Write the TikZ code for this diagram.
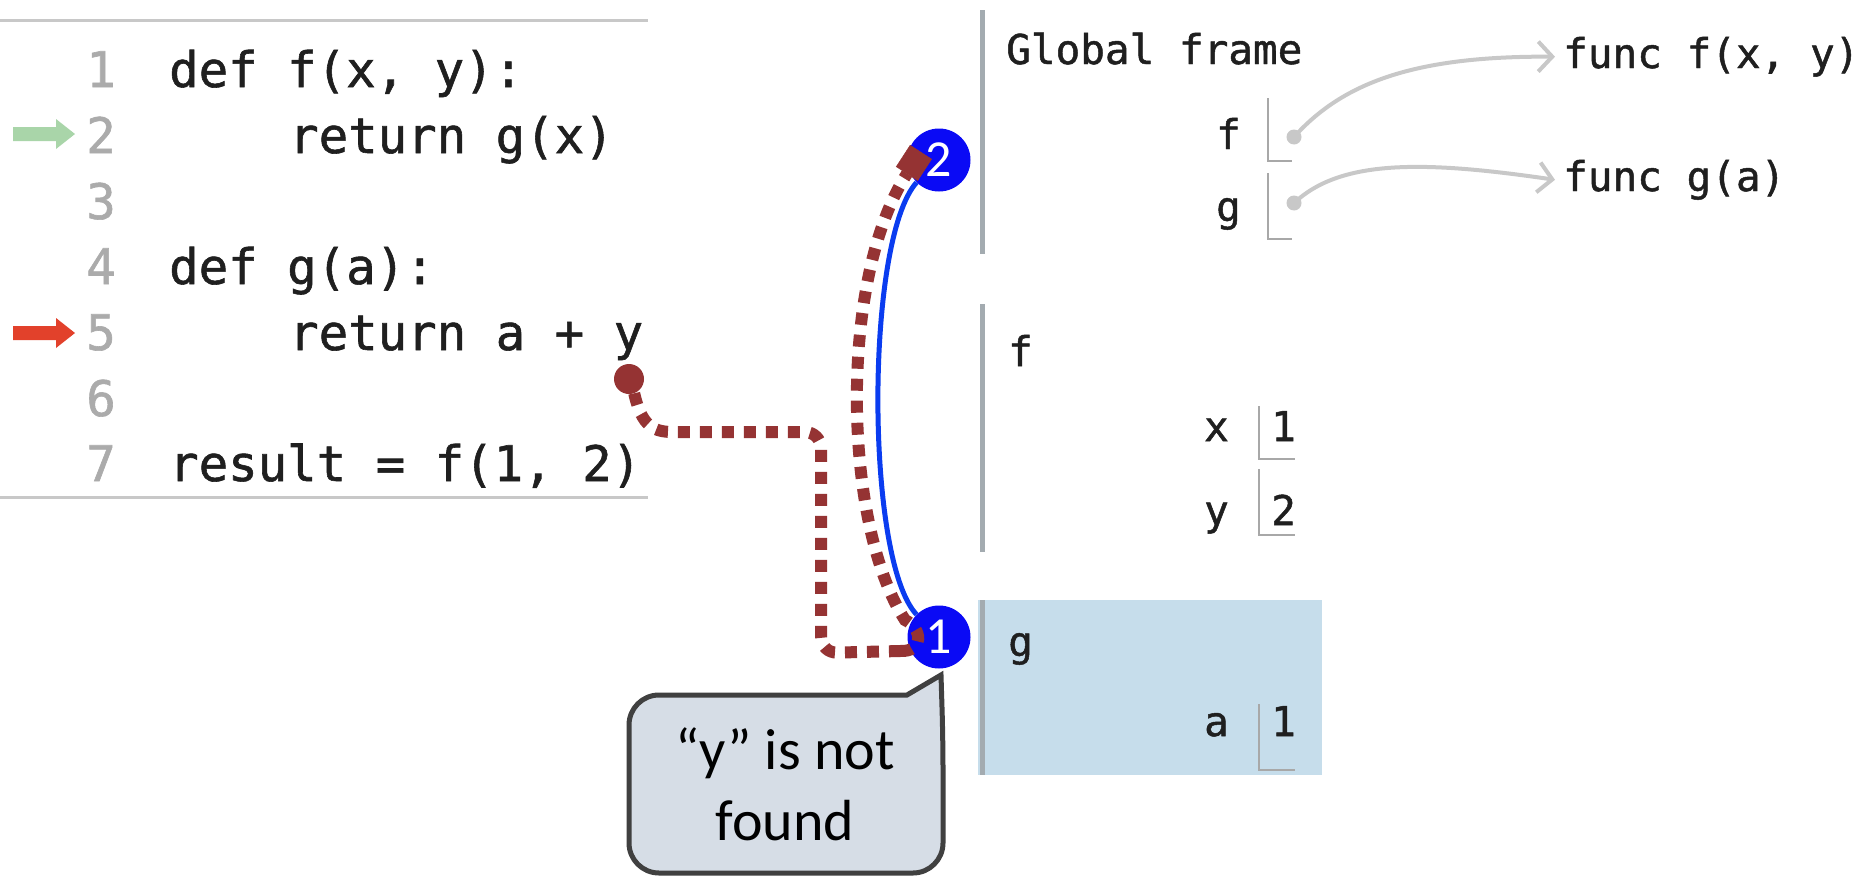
\documentclass[tikz,border=0pt]{standalone}
\usepackage{fontspec}
\setmainfont{Carlito}
\newfontfamily\codefont[FakeBold=1.2]{DejaVu Sans Mono}
\usetikzlibrary{arrows.meta}
\definecolor{linegray}{HTML}{C8C8C8}
\definecolor{numgray}{HTML}{ABABAB}
\definecolor{framebar}{HTML}{A3ABB0}
\definecolor{gframe}{HTML}{C6DDEB}
\definecolor{boxgray}{HTML}{A8A8A8}
\definecolor{ptrgray}{HTML}{C8C8C8}
\definecolor{circblue}{HTML}{0A0AF5}
\definecolor{lineblue}{HTML}{0A3CF0}
\definecolor{darkred}{HTML}{953333}
\definecolor{bubblefill}{HTML}{D6DDE6}
\definecolor{bubbleedge}{HTML}{404040}
\definecolor{arrowgreen}{HTML}{A9D5A9}
\definecolor{arrowred}{HTML}{E2412B}
\begin{document}
\begin{tikzpicture}[x=1pt,y=-1pt,
  codeline/.style={font=\codefont\fontsize{49}{58}\selectfont, anchor=base west, inner sep=0pt, text=black!88},
  lnum/.style={font=\codefont\fontsize{49}{58}\selectfont, anchor=base east, inner sep=0pt, text=numgray},
  ftext/.style={font=\codefont\fontsize{41}{48}\selectfont, inner sep=0pt, text=black!88},
  fbar/.style={line width=5pt, draw=framebar},
  varbox/.style={draw=boxgray, line width=1.5pt},
  ptr/.style={draw=ptrgray, line width=4pt, -{Straight Barb[length=14pt,width=30pt,line width=4pt]}},
  ptrdot/.style={circle, fill=ptrgray, minimum size=15pt, inner sep=0pt},
  callnum/.style={circle, fill=circblue, minimum size=63pt, inner sep=0pt, text=white, font=\fontsize{52}{56}\selectfont},
  lookup/.style={draw=darkred, line width=12pt, dash pattern=on 12pt off 10pt},
  bubbletext/.style={align=center, font=\fontsize{58}{71}\selectfont, inner sep=0pt}
]
\useasboundingbox (0,0) rectangle (1871,878);
\fill[white] (0,0) rectangle (1871,878);

% code panel
\draw[linegray, line width=3pt] (0,20) -- (648,20);
\draw[linegray, line width=3pt] (0,497) -- (648,497);
\node[lnum] (n1) at (116,87) {1};
\node[lnum] (n2) at (116,153) {2};
\node[lnum] (n3) at (116,219) {3};
\node[lnum] (n4) at (116,284) {4};
\node[lnum] (n5) at (116,350) {5};
\node[lnum] (n6) at (116,416) {6};
\node[lnum] (n7) at (116,481) {7};
\node[codeline] (l1) at (169,87) {def f(x, y):};
\node[codeline] (l2) at (289,153) {return g(x)};
\node[codeline] (l4) at (169,284) {def g(a):};
\node[codeline] (l5) at (289,350) {return a + y};
\node[codeline] (l7) at (169,481) {result = f(1, 2)};
% line markers
\fill[arrowgreen] (13,127) -- (56,127) -- (56,119) -- (75,134) -- (56,149) -- (56,141) -- (13,141) -- cycle;
\fill[arrowred] (13,326) -- (56,326) -- (56,318) -- (75,333) -- (56,348) -- (56,340) -- (13,340) -- cycle;

% global frame
\draw[fbar] (982,10) -- (982,254);
\node[ftext, anchor=base west] (gtitle) at (1006,64) {Global frame};
\node[ftext, anchor=base east] (gfname) at (1241,149) {f};
\node[ftext, anchor=base east] (ggname) at (1241,221) {g};
\draw[varbox] (1268,98) -- (1268,161) -- (1292,161);
\draw[varbox] (1268,173) -- (1268,239) -- (1292,239);
\node[ptrdot] (fdot) at (1294,137) {};
\node[ptrdot] (gdot) at (1294,203) {};
\node[ftext, anchor=base west] (funcf) at (1563,68) {func f(x, y)};
\node[ftext, anchor=base west] (funcg) at (1563,191) {func g(a)};
\draw[ptr] (fdot.center) .. controls (1345,80) and (1420,56) .. ([xshift=-8pt]funcf.west);
\draw[ptr] (gdot.center) .. controls (1340,160) and (1420,160) .. ([xshift=-8pt]funcg.west);

% f frame
\draw[fbar] (982,304) -- (982,552);
\node[ftext, anchor=base west] (ftitle) at (1008,366) {f};
\node[ftext, anchor=base east] (xname) at (1229,441) {x};
\node[ftext, anchor=base west] (xval) at (1271,441) {1};
\draw[varbox] (1259,406) -- (1259,459) -- (1295,459);
\node[ftext, anchor=base east] (yname) at (1229,525) {y};
\node[ftext, anchor=base west] (yval) at (1271,525) {2};
\draw[varbox] (1259,469) -- (1259,535) -- (1295,535);

% g frame
\fill[gframe] (978,600) rectangle (1322,775);
\draw[fbar] (982,600) -- (982,775);
\node[ftext, anchor=base west] (gtitle2) at (1008,656) {g};
\node[ftext, anchor=base east] (aname) at (1229,736) {a};
\node[ftext, anchor=base west] (aval) at (1271,736) {1};
\draw[varbox] (1259,704) -- (1259,770) -- (1295,770);

% call markers
\node[callnum] (c2) at (939,160) {2};
\node[callnum] (c1) at (939,637) {1};
\draw[lineblue, line width=5pt] (c2.225) .. controls (865,240) and (865,560) .. (c1.135);

% lookup path
\node[circle, fill=darkred, minimum size=30pt, inner sep=0pt] (ydot) at (629,379) {};
\draw[lookup, rounded corners=16pt] (ydot.290) .. controls (642,428) and (655,432) .. (690,432) -- (821,432) -- (821,653) -- (900,651);
\draw[lookup, -{Square[length=26pt,width=26pt,line width=0.5pt]}] (900,651) .. controls (925,652) and (922,628) .. (905,620) .. controls (843,525) and (838,280) .. (921,152);

% speech bubble
\draw[bubbleedge, fill=bubblefill, line width=5pt, rounded corners=30pt] (780,695) -- (629,695) -- (629,873) -- (943,873) -- (943,740) [sharp corners] -- (941,675) -- (907,695) -- cycle;
\node[bubbletext] (bubble) at (785,784) {“y” is not\\found};
\end{tikzpicture}
\end{document}
